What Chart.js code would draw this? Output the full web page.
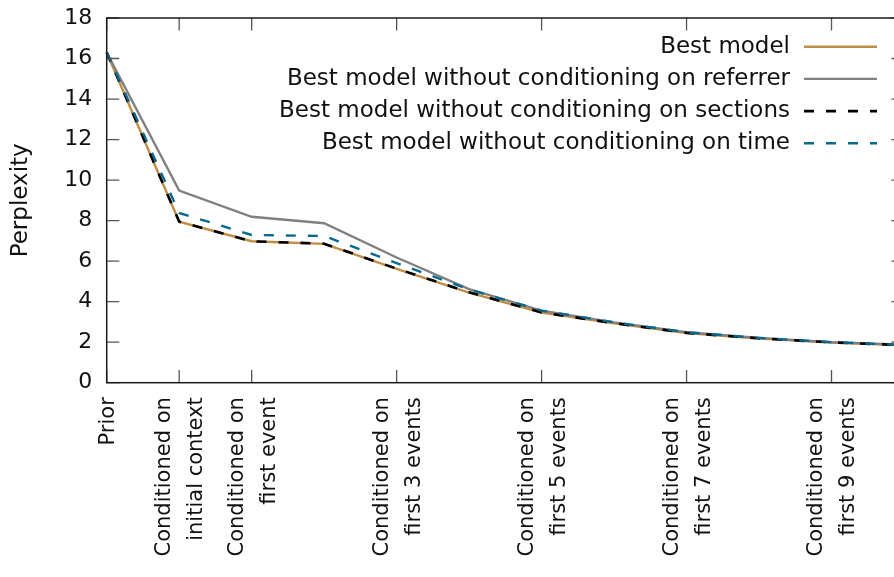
<!DOCTYPE html>
<html>
<head>
<meta charset="utf-8">
<script src="https://cdn.jsdelivr.net/npm/chart.js@4/dist/chart.umd.min.js"></script>
<style>
  html, body { margin: 0; padding: 0; overflow: hidden; background: #fff; }
  canvas { display: block; }
</style>
</head>
<body>
<canvas id="chart" width="910" height="577" style="width:910px;height:577px"></canvas>
<script>
// Evaluation stages on the x axis; an empty entry is a stage without a tick or label
const stageLabels = [
  ['Prior'],
  ['Conditioned on', 'initial context'],
  ['Conditioned on', 'first event'],
  [],
  ['Conditioned on', 'first 3 events'],
  [],
  ['Conditioned on', 'first 5 events'],
  [],
  ['Conditioned on', 'first 7 events'],
  [],
  ['Conditioned on', 'first 9 events'],
  []
];

const yTicks = [0, 2, 4, 6, 8, 10, 12, 14, 16, 18];

const seriesNames = [
  'Best model',
  'Best model without conditioning on referrer',
  'Best model without conditioning on sections',
  'Best model without conditioning on time'
];

// Perplexity at each stage
const bestModel  = [16.3, 7.95, 6.98, 6.85, 5.62, 4.45, 3.46, 2.93, 2.45, 2.18, 1.98, 1.85];
const noReferrer = [16.3, 9.48, 8.19, 7.87, 6.18, 4.62, 3.56, 2.98, 2.49, 2.21, 2.00, 1.87];
const noSections = [16.3, 7.95, 6.98, 6.86, 5.63, 4.46, 3.47, 2.94, 2.46, 2.19, 1.99, 1.85];
const noTime     = [16.3, 8.38, 7.29, 7.24, 5.90, 4.60, 3.56, 2.98, 2.49, 2.21, 2.00, 1.86];

const FONT = "'DejaVu Sans', 'Liberation Sans', sans-serif";
const TEXT = '#111';

// gnuplot-style frame, inward ticks on all four sides, rotated stage labels and key
const framePlugin = {
  id: 'frame',
  afterDraw(chart) {
    const { ctx, chartArea: a, scales } = chart;
    const xs = scales.x, ys = scales.y;
    const tl = 12.6;
    ctx.save();

    // ticks
    ctx.strokeStyle = '#555';
    ctx.lineWidth = 1.3;
    ctx.beginPath();
    stageLabels.forEach((lab, i) => {
      if (!lab.length) return;
      const px = xs.getPixelForValue(i);
      ctx.moveTo(px, a.bottom); ctx.lineTo(px, a.bottom - tl);
      ctx.moveTo(px, a.top);    ctx.lineTo(px, a.top + tl);
    });
    yTicks.forEach(v => {
      const py = ys.getPixelForValue(v);
      ctx.moveTo(a.left, py);  ctx.lineTo(a.left + tl, py);
      ctx.moveTo(a.right, py); ctx.lineTo(a.right - tl, py);
    });
    ctx.stroke();

    // border
    ctx.strokeStyle = '#1a1a1a';
    ctx.lineWidth = 1.5;
    ctx.strokeRect(a.left, a.top, a.right - a.left, a.bottom - a.top);

    // stage labels, rotated to read upwards
    ctx.fillStyle = TEXT;
    ctx.font = '21px ' + FONT;
    ctx.textAlign = 'right';
    ctx.textBaseline = 'middle';
    const lineGap = 32;
    stageLabels.forEach((lab, i) => {
      if (!lab.length) return;
      const px = xs.getPixelForValue(i) + 1.5;
      lab.forEach((line, j) => {
        const cx = px + (j - (lab.length - 1) / 2) * lineGap;
        ctx.save();
        ctx.translate(cx, a.bottom + 14.5);
        ctx.rotate(-Math.PI / 2);
        ctx.fillText(line, 0, 0);
        ctx.restore();
      });
    });

    // key
    ctx.font = '23px ' + FONT;
    ctx.textAlign = 'right';
    chart.data.datasets.forEach((ds, i) => {
      const y = 46.7 + i * 32.2;
      ctx.fillStyle = TEXT;
      ctx.fillText(ds.label, 790, y);
      ctx.strokeStyle = ds.borderColor;
      ctx.lineWidth = ds.borderWidth;
      ctx.setLineDash(ds.borderDash || []);
      ctx.beginPath();
      ctx.moveTo(804, y);
      ctx.lineTo(877, y);
      ctx.stroke();
      ctx.setLineDash([]);
    });
    ctx.restore();
  }
};

const noPad = s => { s.paddingTop = 0; s.paddingBottom = 0; s.paddingLeft = 0; s.paddingRight = 0; };

const colors = ['#c08d45', '#808080', '#000000', '#08698e'];
const dashes = [[], [], [10, 12], [10, 12]];
const widths = [2.4, 2.4, 2.6, 2.4];
const drawOrder = [4, 3, 2, 1];
const values = [bestModel, noReferrer, noSections, noTime];

new Chart(document.getElementById('chart'), {
  type: 'line',
  data: {
    labels: stageLabels,
    datasets: values.map((v, i) => ({
      label: seriesNames[i],
      data: v,
      borderColor: colors[i],
      borderWidth: widths[i],
      borderDash: dashes[i],
      pointRadius: 0,
      tension: 0,
      fill: false,
      order: drawOrder[i]
    }))
  },
  options: {
    responsive: false,
    animation: false,
    devicePixelRatio: 1,
    layout: { padding: { top: 18, right: 6, left: 0, bottom: 0 } },
    plugins: { legend: { display: false }, tooltip: { enabled: false } },
    scales: {
      x: {
        type: 'category',
        offset: false,
        grid: { display: false },
        border: { display: false },
        ticks: { display: false },
        afterFit: s => { s.height = 194.3; noPad(s); }
      },
      y: {
        min: 0,
        max: 18,
        grid: { display: false, drawTicks: false },
        border: { display: false },
        afterBuildTicks: s => { s.ticks = yTicks.map(v => ({ value: v })); },
        afterFit: s => { s.width = 106.7; noPad(s); },
        ticks: {
          padding: 14.5,
          color: TEXT,
          font: { family: FONT, size: 22 }
        },
        title: {
          display: true,
          text: 'Perplexity',
          color: TEXT,
          font: { family: FONT, size: 23 },
          padding: { top: 7, bottom: 0 }
        }
      }
    }
  },
  plugins: [framePlugin]
});
</script>
</body>
</html>
